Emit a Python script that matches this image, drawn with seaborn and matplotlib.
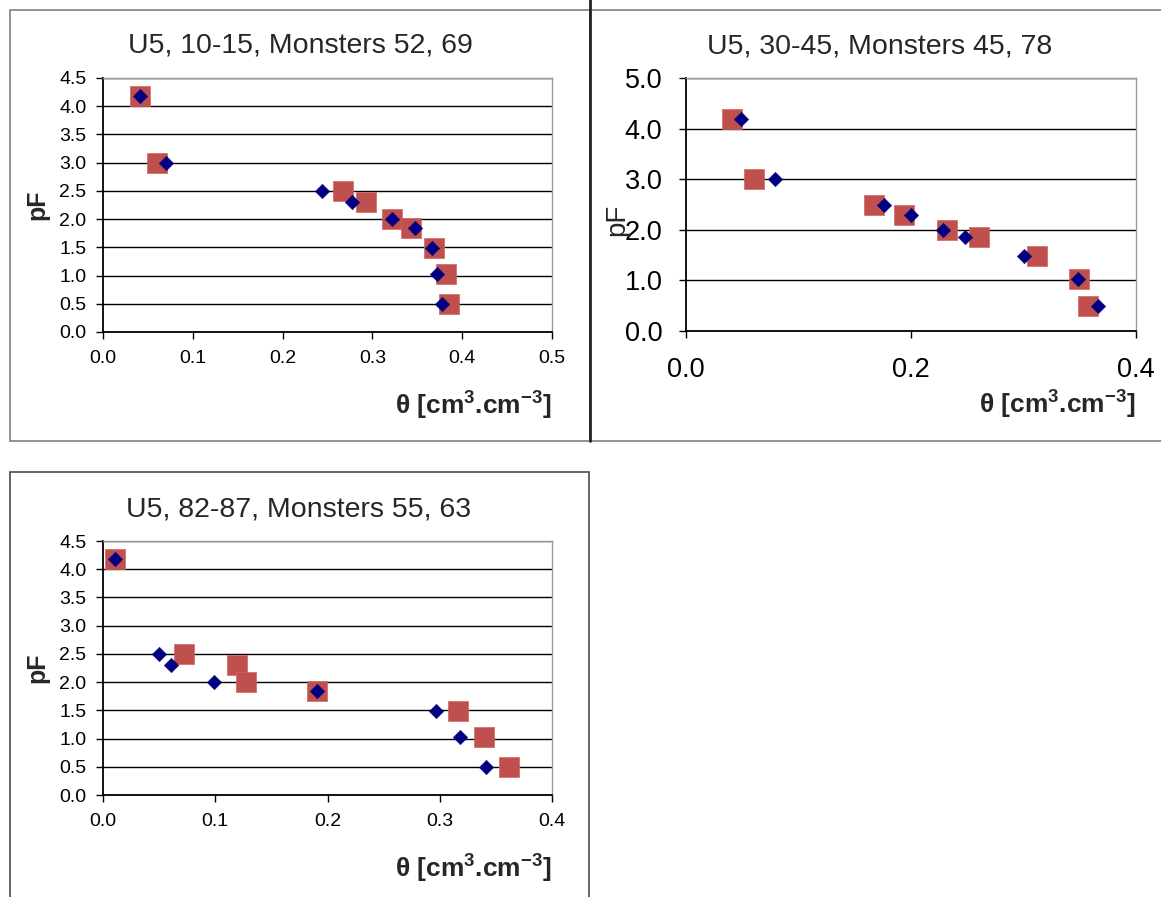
import matplotlib
matplotlib.use("Agg")
import matplotlib.pyplot as plt
import pandas as pd
import seaborn as sns
from matplotlib.patches import Rectangle

# pF levels (shared by all samples)
pf = [4.18, 3.0, 2.5, 2.3, 2.0, 1.85, 1.49, 1.03, 0.49]

# U5, 10-15
theta_a_blue = [0.041, 0.070, 0.244, 0.277, 0.322, 0.347, 0.366, 0.372, 0.377]
theta_a_red = [0.041, 0.060, 0.267, 0.293, 0.322, 0.343, 0.369, 0.382, 0.385]
# U5, 30-45
theta_b_blue = [0.049, 0.079, 0.176, 0.200, 0.228, 0.248, 0.300, 0.348, 0.366]
theta_b_red = [0.041, 0.060, 0.167, 0.194, 0.232, 0.260, 0.312, 0.349, 0.357]
# U5, 82-87 (no 3.0 point)
pf_c = [4.18, 2.5, 2.3, 2.0, 1.85, 1.49, 1.03, 0.49]
theta_c_blue = [0.011, 0.050, 0.061, 0.099, 0.191, 0.297, 0.318, 0.341]
theta_c_red = [0.011, 0.072, 0.119, 0.127, 0.191, 0.316, 0.339, 0.362]

titles = ["U5, 10-15, Monsters 52, 69", "U5, 30-45, Monsters 45, 78", "U5, 82-87, Monsters 55, 63"]

RED = "#C0504D"
BLUE = "#000080"

sns.set_style("white")
plt.rcParams["font.family"] = ["Liberation Sans", "DejaVu Sans"]
plt.rcParams["mathtext.fontset"] = "custom"
plt.rcParams["mathtext.rm"] = "Liberation Sans:bold"
plt.rcParams["mathtext.bf"] = "Liberation Sans:bold"

W, H = 1161, 897
fig = plt.figure(figsize=(W / 100, H / 100), dpi=100)


def px_axes(left, top, right, bottom):
    return fig.add_axes([left / W, 1 - bottom / H, (right - left) / W, (bottom - top) / H])


def style_axes(ax, xmax, xstep, ymax, ystep, tsize, xpad, ypad):
    ax.set_xlim(0, xmax)
    ax.set_ylim(0, ymax)
    xt = [round(i * xstep, 2) for i in range(int(round(xmax / xstep)) + 1)]
    yt = [round(i * ystep, 2) for i in range(int(round(ymax / ystep)) + 1)]
    ax.set_xticks(xt)
    ax.set_yticks(yt)
    ax.set_xticklabels([f"{v:.1f}" for v in xt])
    ax.set_yticklabels([f"{v:.1f}" for v in yt])
    ax.yaxis.grid(True, color="black", lw=1.0)
    ax.xaxis.grid(False)
    ax.set_axisbelow(True)
    for s in ["top", "right"]:
        ax.spines[s].set_color("#9a9a9a")
        ax.spines[s].set_linewidth(1.0)
    for s in ["left", "bottom"]:
        ax.spines[s].set_color("black")
        ax.spines[s].set_linewidth(1.3)
    ax.tick_params(axis="both", direction="out", length=5, width=1.0, color="black",
                   labelsize=tsize, labelcolor="black", left=True, bottom=True)
    ax.tick_params(axis="x", pad=xpad)
    ax.tick_params(axis="y", pad=ypad)


def draw(ax, theta_red, theta_blue, levels):
    df_red = pd.DataFrame({"theta": theta_red, "pF": levels})
    df_blue = pd.DataFrame({"theta": theta_blue, "pF": levels})
    sns.scatterplot(data=df_red, x="theta", y="pF", marker="s", s=200, color=RED,
                    edgecolor="#D06560", linewidth=0.5, ax=ax, zorder=3, clip_on=False)
    sns.scatterplot(data=df_blue, x="theta", y="pF", marker="D", s=55, color=BLUE,
                    edgecolor=BLUE, linewidth=0.3, ax=ax, zorder=4, clip_on=False)


# panel frames
fig.patches.append(Rectangle((10 / W, 1 - 441 / H), 580 / W, 431 / H, transform=fig.transFigure,
                             fill=False, edgecolor="#7f7f7f", lw=1.2))
fig.patches.append(Rectangle((590 / W, 1 - 441 / H), 600 / W, 431 / H, transform=fig.transFigure,
                             fill=False, edgecolor="#7f7f7f", lw=1.2))
fig.add_artist(plt.Line2D([590 / W, 590 / W], [1 - 441 / H, 1.0], transform=fig.transFigure,
                          color="#222222", lw=2.0))
fig.patches.append(Rectangle((10 / W, -0.02), 579 / W, (897 - 472) / H + 0.02, transform=fig.transFigure,
                             fill=False, edgecolor="#4a4a4a", lw=1.2))

xlab = r"θ [cm$^{3}$.cm$^{-3}$]"

# panel 1
ax1 = px_axes(103, 78, 552, 332)
draw(ax1, theta_a_red, theta_a_blue, pf)
style_axes(ax1, 0.5, 0.1, 4.5, 0.5, 14, 8, 7)
ax1.set_title(titles[0], fontsize=20.5, pad=18, x=0.44)
ax1.set_ylabel("pF", fontsize=18, fontweight="bold")
ax1.yaxis.set_label_coords(-0.12, 0.5)
ax1.set_xlabel(xlab, fontsize=19, fontweight="bold", ha="right")
ax1.xaxis.set_label_coords(1.0, -0.22)

# panel 2
ax2 = px_axes(686, 78, 1136, 331)
draw(ax2, theta_b_red, theta_b_blue, pf)
style_axes(ax2, 0.4, 0.2, 5.0, 1.0, 19.5, 14, 12)
ax2.set_title(titles[1], fontsize=20.5, pad=18, x=0.43)
ax2.set_ylabel("pF", fontsize=20)
ax2.yaxis.set_label_coords(-0.125, 0.44)
ax2.set_xlabel(xlab.replace("-3", "−3"), fontsize=19, fontweight="bold", ha="right")
ax2.xaxis.set_label_coords(1.0, -0.22)

# panel 3
ax3 = px_axes(103, 541, 552, 795)
draw(ax3, theta_c_red, theta_c_blue, pf_c)
style_axes(ax3, 0.4, 0.1, 4.5, 0.5, 14, 8, 7)
ax3.set_title(titles[2], fontsize=20.5, pad=18, x=0.435)
ax3.set_ylabel("pF", fontsize=18, fontweight="bold")
ax3.yaxis.set_label_coords(-0.12, 0.5)
ax3.set_xlabel(xlab, fontsize=19, fontweight="bold", ha="right")
ax3.xaxis.set_label_coords(1.0, -0.22)

fig.savefig("out.png", dpi=100)
